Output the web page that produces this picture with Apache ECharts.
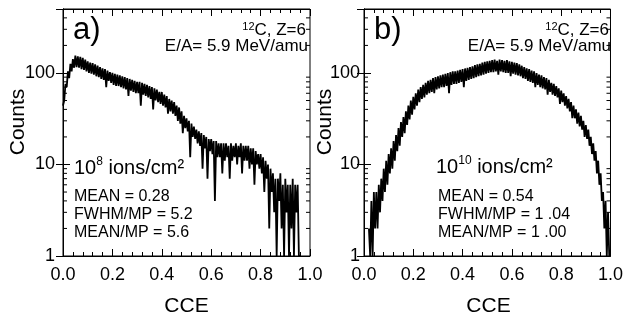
<!DOCTYPE html>
<html><head><meta charset="utf-8">
<script src="https://cdn.jsdelivr.net/npm/echarts@6/dist/echarts.min.js"></script>
<style>html,body{margin:0;padding:0;background:#fff}#c{width:626px;height:321px}</style>
</head><body><div id="c"></div>
<script>
// ---- data ----
const cceStartA = 0.0, binA = 0.005;
const countsA = [
44,50,76,70,104,88,126,104,142,114,
155,116,152,114,150,110,146,108,140,104,
134,100,130,98,128,96,124,92,120,90,
116,86,112,84,110,70,106,82,102,78,
100,74,98,72,96,72,94,70,92,68,
90,66,88,56,86,64,84,62,82,60,
80,60,80,44,78,58,76,56,74,54,
72,52,70,40,68,50,66,48,62,46,
62,44,58,42,56,36,52,38,50,36,
48,34,44,30,42,28,38,22,34,25,
32,23,30,12,28,20,26,19,24,17,
23,16,22,9,21,15,20,7,19,14,
19,13,18,4,18,12,17,12,17,8,
17,11,17,12,16,7,17,11,16,12,
17,10,16,12,17,8,16,11,16,11,
16,9,15,10,15,6,14,10,13,9,
13,8,12,5,11,7,10,2,9,5,
8,3,7,1,7,4,8,2,6,1,
7,3,6,1,6,2,7,1,6,3,6,1,1
];
const cceStartB = 0.02, binB = 0.005;
const countsB = [
2,1,4,1,5,2,5,2,6,3,
7,4,9,5,11,6,13,8,15,9,
18,11,21,14,25,16,29,20,33,22,
38,27,44,31,50,35,55,40,60,44,
66,48,70,52,74,54,78,58,82,60,
84,62,88,60,90,66,92,68,94,70,
96,70,98,72,100,60,102,74,104,76,
104,76,106,78,108,80,110,70,112,82,
114,84,116,86,118,88,122,90,124,92,
126,94,130,96,132,98,134,100,136,102,
138,102,140,104,136,96,140,104,138,102,
136,100,138,100,134,92,132,98,130,96,
128,94,124,92,120,88,116,86,112,82,
110,80,106,78,104,70,100,74,96,70,
94,68,90,66,88,58,84,62,78,58,
76,56,72,54,68,46,64,48,60,44,
56,41,52,38,48,32,44,32,40,28,
37,26,34,24,30,20,27,19,24,16,
20,13,17,11,14,8,11,6,8,4,
5,2,4,1,3,1
];
const logMinor = [2,3,4,5,6,7,8,9,20,30,40,50,60,70,80,90,200,300,400];
const panelA = {label: 'a)', ion: '{b|10}{s|8}{b| ions/cm²}', stats: ['MEAN = 0.28', 'FWHM/MP = 5.2', 'MEAN/MP = 5.6']};
const panelB = {label: 'b)', ion: '{b|10}{s|10}{b| ions/cm²}', stats: ['MEAN = 0.54', 'FWHM/MP = 1 .04', 'MEAN/MP = 1 .00']};

const toPairs = (start, bin, arr) => arr.map((c, i) => [+(start + i * bin).toFixed(4), c]);

const FONT = 'Liberation Sans, Arial, sans-serif';
const grids = [
  {left: 63, top: 9, width: 247, height: 247, labelMargin: 8, countsX: 18},
  {left: 364, top: 9, width: 249, height: 247, labelMargin: 4, countsX: 325}
];

const xAxes = [], yAxes = [], series = [];
grids.forEach((g, k) => {
  xAxes.push({type: 'value', gridIndex: k, min: 0, max: 1, interval: 0.2, position: 'bottom',
    axisLine: {show: true, lineStyle: {color: '#000', width: 1}},
    axisTick: {show: true, inside: true, length: 7, lineStyle: {color: '#000'}},
    minorTick: {show: true, splitNumber: 5, length: 4, lineStyle: {color: '#000'}},
    axisLabel: {show: true, margin: 10, fontFamily: FONT, fontSize: 18, color: '#000', formatter: v => v.toFixed(1)},
    splitLine: {show: false}, minorSplitLine: {show: false}});
  xAxes.push({type: 'value', gridIndex: k, min: 0, max: 1, interval: 0.2, position: 'top',
    axisLine: {show: true, lineStyle: {color: '#000'}},
    axisTick: {show: true, inside: true, length: 7, lineStyle: {color: '#000'}},
    minorTick: {show: true, splitNumber: 5, length: 4, lineStyle: {color: '#000'}},
    axisLabel: {show: false}, splitLine: {show: false}});
  yAxes.push({type: 'log', logBase: 10, gridIndex: k, min: 1, max: 500, position: 'left',
    axisLine: {show: true, lineStyle: {color: '#000'}},
    axisTick: {show: true, inside: true, length: 7, lineStyle: {color: '#000'}},
    axisLabel: {show: true, margin: g.labelMargin, fontFamily: FONT, fontSize: 18, color: '#000', showMaxLabel: false,
      formatter: v => ([1, 10, 100].indexOf(Math.round(v)) >= 0 ? String(Math.round(v)) : '')},
    splitLine: {show: false}});
  yAxes.push({type: 'log', logBase: 10, gridIndex: k, min: 1, max: 500, position: 'right',
    axisLine: {show: true, lineStyle: {color: '#000'}},
    axisTick: {show: true, inside: true, length: 7, lineStyle: {color: '#000'}},
    axisLabel: {show: false}, splitLine: {show: false}});
});

series.push({type: 'line', xAxisIndex: 0, yAxisIndex: 0, data: toPairs(cceStartA, binA, countsA),
  showSymbol: false, symbol: 'none', lineStyle: {color: '#000', width: 1.8}, animation: false});
series.push({type: 'line', xAxisIndex: 2, yAxisIndex: 2, data: toPairs(cceStartB, binB, countsB),
  showSymbol: false, symbol: 'none', lineStyle: {color: '#000', width: 1.8}, animation: false});

// minor log ticks (2..9 per decade) on left and right axes
[0, 2].forEach(ai => {
  series.push({type: 'custom', xAxisIndex: ai, yAxisIndex: ai, clip: false, silent: true, animation: false,
    data: logMinor.map(v => [0, v]),
    renderItem: (params, api) => {
      const v = api.value(1);
      const pl = api.coord([0, v]), pr = api.coord([1, v]);
      return {type: 'group', children: [
        {type: 'line', shape: {x1: pl[0], y1: pl[1], x2: pl[0] + 4, y2: pl[1]}, style: {stroke: '#000', lineWidth: 1}},
        {type: 'line', shape: {x1: pr[0], y1: pr[1], x2: pr[0] - 4, y2: pr[1]}, style: {stroke: '#000', lineWidth: 1}}
      ]};
    }});
});

const rich = {
  b: {fontFamily: FONT, fontSize: 20, color: '#000', verticalAlign: 'bottom', lineHeight: 22},
  s: {fontFamily: FONT, fontSize: 12, color: '#000', verticalAlign: 'top', lineHeight: 22},
  m: {fontFamily: FONT, fontSize: 17, color: '#000', verticalAlign: 'bottom', lineHeight: 18},
  t: {fontFamily: FONT, fontSize: 11, color: '#000', verticalAlign: 'top', lineHeight: 18}
};
const txt = (x, y, text, size, align, rot) => ({type: 'text', x, y, rotation: rot || 0, silent: true,
  style: {text, fontFamily: FONT, fontSize: size, fill: '#000', align: align || 'left', verticalAlign: 'middle', rich}});

const graphic = [];
[[panelA, grids[0], 74, 167, 74], [panelB, grids[1], 436, 166, 438]].forEach(([p, g, ix, iy, sx]) => {
  const right = g.left + g.width - 4;
  graphic.push(txt(g.left + 10, 30, p.label, 31));
  graphic.push(txt(right, 30, '{t|12}{m|C, Z=6}', 17, 'right'));
  graphic.push(txt(right + 2, 46, 'E/A= 5.9 MeV/amu', 17, 'right'));
  graphic.push(txt(ix, iy, p.ion, 20));
  p.stats.forEach((s, i) => graphic.push(txt(sx, 197 + i * 18, s, 16)));
  graphic.push(txt(g.countsX, 122, 'Counts', 21, 'center', Math.PI / 2));
  graphic.push(txt(g.left + g.width / 2, 306, 'CCE', 21, 'center'));
});

const chart = echarts.init(document.getElementById('c'), null, {renderer: 'canvas'});
chart.setOption({
  animation: false,
  backgroundColor: '#fff',
  grid: grids.map(g => ({left: g.left, top: g.top, width: g.width, height: g.height, containLabel: false,
    show: true, borderColor: '#000', borderWidth: 1, backgroundColor: 'transparent'})),
  xAxis: xAxes, yAxis: yAxes, series, graphic
});
</script></body></html>
